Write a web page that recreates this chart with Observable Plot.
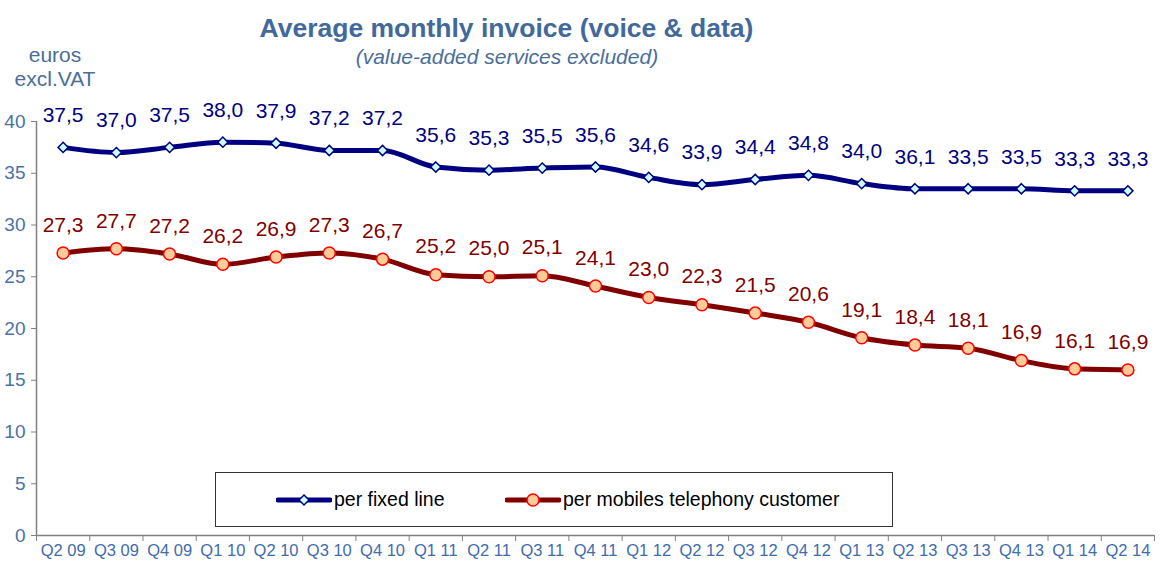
<!DOCTYPE html>
<html><head><meta charset="utf-8">
<script src="https://cdn.jsdelivr.net/npm/d3@7"></script>
<script src="https://cdn.jsdelivr.net/npm/@observablehq/plot@0.6"></script>
<style>
body{margin:0;background:#fff;font-family:"Liberation Sans",Arial,sans-serif;}
#wrap{position:relative;width:1167px;height:563px;overflow:hidden;background:#fff;}
#chart{position:absolute;left:0;top:0;}
.t{position:absolute;white-space:nowrap;line-height:1;}
#title{left:0;width:1013px;text-align:center;top:15px;font-size:26.5px;font-weight:bold;color:#41699c;}
#subtitle{left:0;width:1014px;text-align:center;top:46px;font-size:21px;font-style:italic;color:#4a6e9a;}
#unit{left:0px;width:110px;text-align:center;top:43px;font-size:21px;line-height:23.5px;color:#4a6e9a;}
#legend{position:absolute;left:215px;top:472px;width:678px;height:55px;border:1px solid #333;background:#fff;box-sizing:border-box;}
.li{position:absolute;top:0;height:53px;display:flex;align-items:center;font-size:19.5px;color:#000;}
.li svg{margin-right:2px;}
</style></head><body>
<div id="wrap">
  <div id="chart"></div>
  <div class="t" id="title">Average monthly invoice (voice &amp; data)</div>
  <div class="t" id="subtitle">(value-added services excluded)</div>
  <div class="t" id="unit">euros<br>excl.VAT</div>
  <div id="legend">
    <div class="li" style="left:60px"><svg width="56" height="14"><line x1="2" y1="7" x2="54" y2="7" stroke="#000080" stroke-width="5" stroke-linecap="round"/><path d="M28,2 L33,7 L28,12 L23,7 Z" fill="#ccffff" stroke="#000080" stroke-width="1.5"/></svg>per fixed line</div>
    <div class="li" style="left:289px"><svg width="56" height="16"><line x1="2" y1="8" x2="54" y2="8" stroke="#800000" stroke-width="5" stroke-linecap="round"/><circle cx="28" cy="8" r="6" fill="#ffcc99" stroke="#ff0000" stroke-width="1.5"/></svg>per mobiles telephony customer</div>
  </div>
</div>
<script>
const quarters = ["Q2 09","Q3 09","Q4 09","Q1 10","Q2 10","Q3 10","Q4 10","Q1 11","Q2 11","Q3 11","Q4 11","Q1 12","Q2 12","Q3 12","Q4 12","Q1 13","Q2 13","Q3 13","Q4 13","Q1 14","Q2 14"];
const fixedValues = [37.5,37.0,37.5,38.0,37.9,37.2,37.2,35.6,35.3,35.5,35.6,34.6,33.9,34.4,34.8,34.0,33.5,33.5,33.5,33.3,33.3];
const fixedLabels = ["37,5","37,0","37,5","38,0","37,9","37,2","37,2","35,6","35,3","35,5","35,6","34,6","33,9","34,4","34,8","34,0","36,1","33,5","33,5","33,3","33,3"];
const mobileValues = [27.3,27.7,27.2,26.2,26.9,27.3,26.7,25.2,25.0,25.1,24.1,23.0,22.3,21.5,20.6,19.1,18.4,18.1,16.9,16.1,16.0];
const mobileLabels = ["27,3","27,7","27,2","26,2","26,9","27,3","26,7","25,2","25,0","25,1","24,1","23,0","22,3","21,5","20,6","19,1","18,4","18,1","16,9","16,1","16,9"];
const yTicks = [0,5,10,15,20,25,30,35,40];

const rows = quarters.map((q,i)=>({i,q,fixed:fixedValues[i],fixedLabel:fixedLabels[i],mobile:mobileValues[i],mobileLabel:mobileLabels[i]}));
const idx = d3.range(quarters.length);
const bounds = d3.range(quarters.length+1).map(i=>i-0.5);

const chart = Plot.plot({
  width:1167, height:563,
  marginLeft:36, marginRight:13, marginTop:121, marginBottom:28,
  x:{type:"linear", domain:[-0.5, quarters.length-0.5]},
  y:{domain:[0,40]},
  style:{fontFamily:"'Liberation Sans', Arial, sans-serif", background:"transparent", overflow:"visible"},
  marks:[
    Plot.axisY(yTicks,{tickSize:5, tickPadding:6, stroke:"#808080", fill:"#4a72a6", fontSize:19, label:null}),
    Plot.axisX(bounds,{tickSize:6, tickFormat:()=>"", stroke:"#808080", label:null}),
    Plot.axisX(idx,{tickSize:0, tickPadding:9, tickFormat:i=>quarters[i], fill:"#3f6cab", fontSize:16.5, label:null}),
    Plot.ruleY([0],{stroke:"#808080", strokeWidth:1.5}),
    Plot.ruleX([-0.5],{y1:0, y2:40, stroke:"#808080", strokeWidth:1.5}),
    Plot.line(rows,{x:"i", y:"fixed", stroke:"#000080", strokeWidth:5, curve:"monotone-x"}),
    Plot.line(rows,{x:"i", y:"mobile", stroke:"#800000", strokeWidth:5, curve:"monotone-x"}),
    Plot.dot(rows,{x:"i", y:"fixed", symbol:"diamond2", r:4.6, fill:"#ccffff", stroke:"#000080", strokeWidth:1.5}),
    Plot.dot(rows,{x:"i", y:"mobile", r:6, fill:"#ffcc99", stroke:"#ff0000", strokeWidth:1.5}),
    Plot.text(rows,{x:"i", y:"fixed", text:"fixedLabel", dy:-32, fill:"#000080", fontSize:21}),
    Plot.text(rows,{x:"i", y:"mobile", text:"mobileLabel", dy:-28, fill:"#800000", fontSize:21})
  ]
});
document.getElementById("chart").appendChild(chart);
</script>
</body></html>
